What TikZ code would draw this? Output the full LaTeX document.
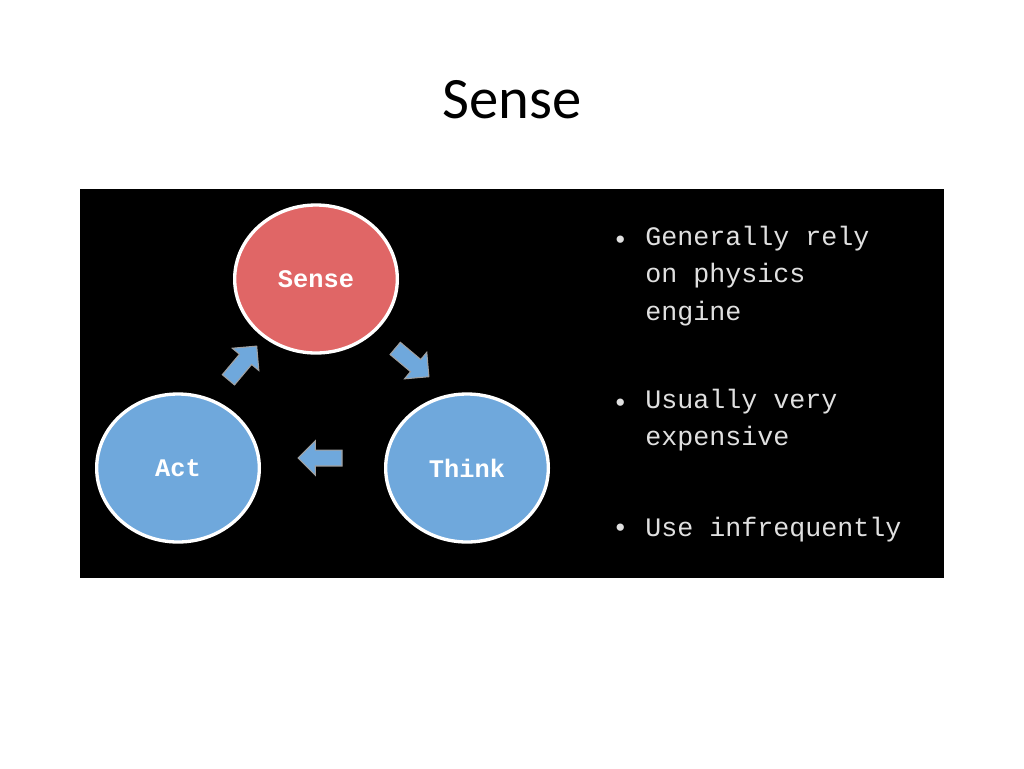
\documentclass[tikz,border=0pt]{standalone}
\usepackage{fontspec}
\setmainfont{Carlito}
\newfontfamily\monof{Liberation Mono}
\usetikzlibrary{shapes.arrows}
\definecolor{sred}{HTML}{E06666}
\definecolor{sblue}{HTML}{6FA8DC}
\definecolor{agray}{HTML}{A0A0A0}
\begin{document}
\begin{tikzpicture}[x=0.75pt,y=-0.75pt,
  circ/.style={ellipse,draw=white,line width=2.5pt,minimum width=122pt,minimum height=111pt,text=white,font=\monof\bfseries\fontsize{19}{22}\selectfont},
  barrow/.style={single arrow,fill=sblue,draw=agray,line width=0.8pt,minimum height=33pt,minimum width=26pt,single arrow head extend=4pt,inner sep=3pt},
  btxt/.style={anchor=west,text=white!88!black,font=\monof\fontsize{20}{28}\selectfont,align=left,inner sep=0pt}]
\useasboundingbox (0,0) rectangle (1024,768);
\fill[white] (0,0) rectangle (1024,768);
\node (title) at (512,100) {\fontsize{44}{50}\selectfont Sense};
\fill[black] (80,189) rectangle (944,578);
\usetikzlibrary{shapes.geometric}
\node[circ,fill=sred] (sense) at (316,279) {Sense};
\node[circ,fill=sblue] (act) at (178,468) {Act};
\node[circ,fill=sblue] (think) at (467,468) {Think};
\node[barrow,rotate=50] (a1) at (240,366) {};
\node[barrow,rotate=-40] (a2) at (409,360) {};
\node[barrow,rotate=180] (a3) at (324,458) {};
\node[btxt] (b1) at (612,242) {\textbullet};
\node[btxt,anchor=north west] (t1) at (645,226) {Generally rely\\on physics\\engine};
\node[btxt] (b2) at (612,405) {\textbullet};
\node[btxt,anchor=north west] (t2) at (645,389) {Usually very\\expensive};
\node[btxt] (b3) at (612,530) {\textbullet};
\node[btxt] (t3) at (645,530) {Use infrequently};
\end{tikzpicture}
\end{document}
